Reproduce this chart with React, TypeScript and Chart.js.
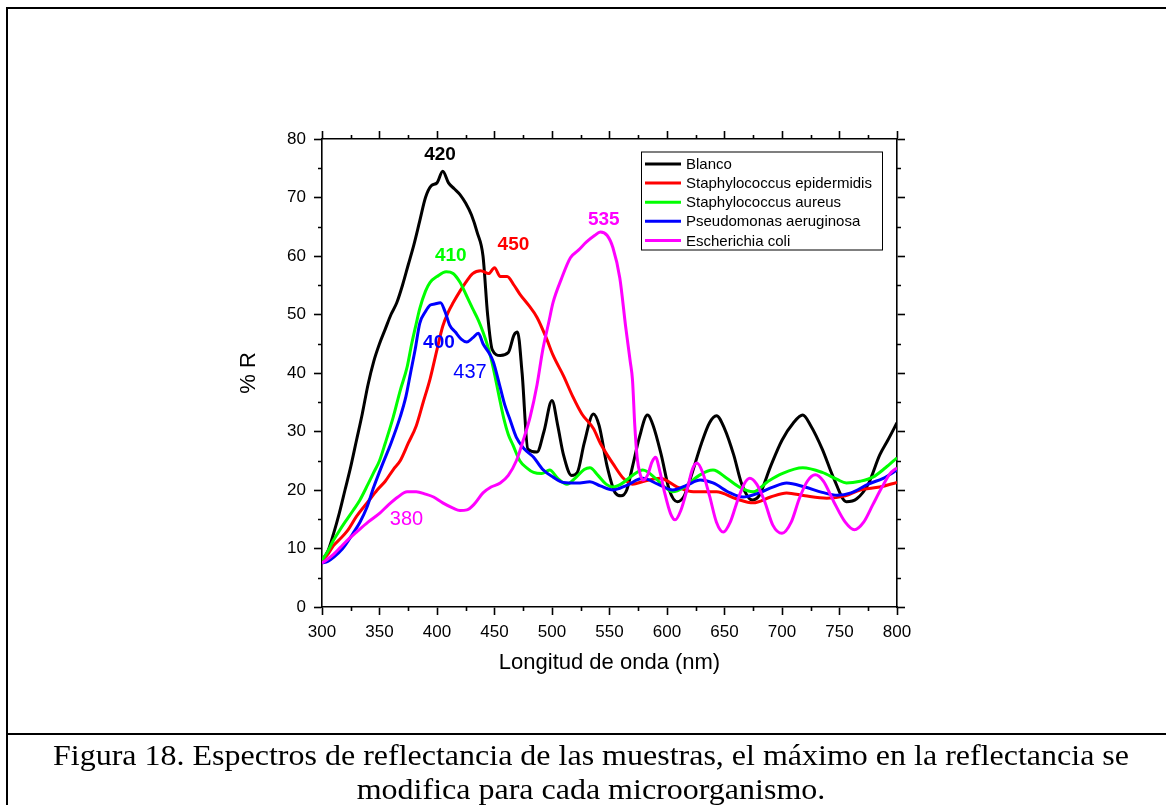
import React, { useEffect, useRef, useMemo } from "react";
import { Chart, registerables } from "chart.js";

Chart.register(...registerables);

// ---------- data ----------
const seriesNames = [
  "Blanco",
  "Staphylococcus epidermidis",
  "Staphylococcus aureus",
  "Pseudomonas aeruginosa",
  "Escherichia coli",
];
const seriesColors = ["#000000", "#ff0000", "#00ff00", "#0000ff", "#ff00ff"];

const blancoNm = [300, 305, 310, 315, 320, 325, 330, 335, 340, 345, 350, 355, 360, 365, 370, 375, 380, 385, 390, 395, 400, 405, 410, 415, 420, 425, 430, 435, 440, 444, 448, 455, 462, 467, 470, 474, 479, 487, 493, 500, 505, 510, 517, 522, 528, 536, 541, 548, 555, 560, 565, 570, 576, 583, 588, 595, 602, 609, 615, 622, 630, 637, 643, 650, 658, 665, 674, 680, 690, 700, 710, 718, 725, 735, 745, 756, 765, 775, 785, 792, 800];
const blancoR = [8, 9.5, 12.5, 16, 20, 24, 28.5, 33, 38, 42, 45, 47.5, 50, 52, 55, 58.5, 62, 66, 70, 72, 72.5, 74.5, 72.5, 71.5, 70.5, 69, 67, 64, 60, 50, 44, 43, 43.5, 46.5, 47, 40, 27, 26.5, 30, 35.3, 31, 26, 22.5, 23, 28, 33, 31, 24, 19.5, 19, 20, 24, 29, 32.8, 31, 26, 20, 18, 19, 23, 28, 31.5, 32.7, 30.5, 26, 21, 18.3, 19, 24, 28.5, 31.5, 32.8, 31, 27, 22, 18, 18.5, 21, 26, 28.5, 31.5];

const epidermidisNm = [300, 305, 310, 315, 322, 330, 340, 348, 355, 362, 368, 375, 382, 388, 394, 400, 405, 410, 414, 420, 425, 431, 438, 445, 450, 455, 461, 467, 472, 480, 487, 495, 501, 510, 518, 526, 536, 542, 548, 553, 562, 570, 580, 594, 609, 623, 643, 660, 675, 690, 704, 720, 739, 755, 768, 785, 800];
const epidermidisR = [8, 9, 10.5, 11.5, 13, 15.5, 18, 20, 21.5, 23.5, 25, 28, 31, 35, 39, 44, 48, 50.5, 52, 54, 55.5, 57, 57.5, 57, 58, 56.5, 56.5, 55, 53.5, 51.5, 49.5, 46, 43, 39.5, 36, 33, 30.5, 28, 26, 24.5, 22, 21, 21.5, 22, 20.5, 19.7, 19.7, 18.5, 17.8, 18.8, 19.5, 19, 18.6, 19, 20, 20.5, 21.3];

const aureusNm = [300, 305, 310, 315, 320, 327, 333, 340, 345, 350, 355, 362, 368, 374, 378, 382, 385, 390, 394, 400, 408, 414, 420, 425, 431, 436, 440, 445, 449, 454, 458, 462, 466, 472, 478, 484, 491, 498, 505, 513, 520, 528, 533, 540, 547, 553, 560, 570, 579, 590, 598, 605, 615, 628, 640, 652, 663, 675, 688, 700, 718, 735, 748, 756, 768, 779, 790, 800];
const aureusR = [8, 9.5, 11.4, 13, 14.5, 16.5, 18.3, 21, 23, 25, 28, 32.5, 37, 41, 45, 48.5, 51, 54, 55.5, 56.5, 57.3, 57, 55.5, 53.5, 51, 49, 47, 44, 40.8, 36, 32.3, 29.5, 27.7, 25, 23.8, 23, 22.8, 23.4, 22, 21, 22, 23.5, 23.8, 22.5, 21, 20.5, 21, 22.5, 23.4, 22, 20.5, 19.7, 20.5, 22.5, 23.4, 22, 20.5, 19.7, 21.5, 22.8, 23.8, 23, 21.8, 21.2, 21.5, 22.2, 23.8, 25.5];

const pseudomonasNm = [300, 305, 310, 318, 327, 333, 339, 345, 353, 360, 368, 373, 377, 381, 385, 390, 394, 398, 403, 407, 411, 416, 421, 426, 431, 436, 440, 445, 449, 455, 459, 463, 469, 476, 484, 492, 501, 510, 522, 533, 542, 553, 565, 579, 592, 605, 617, 629, 640, 655, 666, 680, 692, 704, 720, 735, 748, 760, 775, 788, 800];
const pseudomonasR = [7.5, 7.8, 8.5, 10, 12.6, 14.5, 17, 20.5, 24.6, 28, 32.5, 36, 40, 44, 48.5, 50.5, 51.6, 51.8, 52, 50.5, 48.2, 47, 45.8, 45.3, 46, 46.8, 45, 43.5, 41.9, 37.5, 34.5, 32.3, 29, 27, 25.6, 23.5, 22.2, 21.3, 21.2, 21.4, 20.7, 20, 20.8, 22, 21, 20, 20.8, 21.7, 21.2, 19.5, 18.8, 19.5, 20.5, 21.2, 20.5, 19.6, 19.1, 19.5, 21, 22, 23.4];

const coliNm = [300, 305, 310, 316, 322, 330, 340, 350, 358, 366, 374, 382, 390, 397, 405, 414, 420, 426, 432, 440, 447, 455, 462, 469, 475, 481, 487, 492, 497, 501, 508, 516, 523, 530, 537, 542, 548, 553, 559, 564, 568, 570, 572, 574, 577, 579, 583, 587, 590, 594, 598, 603, 607, 612, 618, 622, 626, 631, 637, 643, 649, 655, 661, 667, 672, 678, 685, 692, 700, 708, 715, 722, 729, 736, 745, 755, 763, 771, 779, 787, 794, 800];
const coliR = [7.5, 8.2, 9, 10.2, 11.4, 12.8, 14.5, 16, 17.5, 18.8, 19.7, 19.7, 19.3, 18.8, 17.8, 16.9, 16.5, 16.6, 17.5, 19.5, 20.5, 21.2, 22.5, 25, 28.5, 32.5, 38, 44, 48.5, 52.1, 56, 59.7, 61, 62.4, 63.5, 64.1, 63.5, 61.4, 56.2, 48, 42, 38.8, 31, 25.6, 22.5, 21.7, 22.5, 24.8, 25.6, 23, 19.5, 16, 14.9, 16.5, 20.5, 23.5, 24.6, 23, 19, 14.5, 12.8, 14.5, 18, 21, 22, 21, 18, 14, 12.6, 14.5, 18.5, 21.5, 22.6, 21.5, 18, 14.5, 13.2, 14.5, 17.5, 20.5, 22.8, 23.8];

const seriesNm = [blancoNm, epidermidisNm, aureusNm, pseudomonasNm, coliNm];
const seriesR = [blancoR, epidermidisR, aureusR, pseudomonasR, coliR];

// peak annotations
const annotationText = ["420", "410", "450", "535", "400", "437", "380"];
const annotationNm = [402.6, 412, 466.5, 545, 401.7, 428.7, 373.5];
const annotationR = [77.3, 60.1, 62, 66.2, 45.2, 40.1, 14.9];
const annotationColor = ["#000000", "#00ff00", "#ff0000", "#ff00ff", "#0000ff", "#0000ff", "#ff00ff"];
const annotationBold = [true, true, true, true, true, false, false];

// axes
const xMin = 300, xMax = 800, xStep = 50;
const yMin = 0, yMax = 80, yStep = 10;
const xMinorTicks = [325, 375, 425, 475, 525, 575, 625, 675, 725, 775];
const yMinorTicks = [5, 15, 25, 35, 45, 55, 65, 75];

const xTitle = "Longitud de onda (nm)";
const yTitle = "% R";
const captionLines = [
  "Figura 18. Espectros de reflectancia de las muestras, el máximo en la reflectancia se",
  "modifica para cada microorganismo.",
];

const SANS = 'Arial, "Liberation Sans", sans-serif';
const SERIF = '"Liberation Serif", "Times New Roman", serif';

const minorTickPlugin = {
  id: "minorTicks",
  afterDraw(chart: any) {
    const { ctx, chartArea: ca, scales } = chart;
    const len = 4;
    ctx.save();
    ctx.strokeStyle = "#000";
    ctx.lineWidth = 1.6;
    ctx.beginPath();
    for (const v of xMinorTicks) {
      const px = Math.round(scales.x.getPixelForValue(v)) + 0.5;
      ctx.moveTo(px, ca.bottom);
      ctx.lineTo(px, ca.bottom + len);
      ctx.moveTo(px, ca.top);
      ctx.lineTo(px, ca.top - len);
    }
    for (const v of yMinorTicks) {
      const py = Math.round(scales.y.getPixelForValue(v)) + 0.5;
      ctx.moveTo(ca.left - len, py);
      ctx.lineTo(ca.left, py);
      ctx.moveTo(ca.right, py);
      ctx.lineTo(ca.right + len, py);
    }
    ctx.stroke();
    ctx.restore();
  },
};

const annotationPlugin = {
  id: "peakLabels",
  afterDatasetsDraw(chart: any) {
    const { ctx, scales } = chart;
    ctx.save();
    ctx.textAlign = "center";
    ctx.textBaseline = "middle";
    annotationText.forEach((t, i) => {
      ctx.font = `${annotationBold[i] ? "bold 19px" : "20px"} ${SANS}`;
      ctx.fillStyle = annotationColor[i];
      ctx.fillText(t, scales.x.getPixelForValue(annotationNm[i]), scales.y.getPixelForValue(annotationR[i]));
    });
    ctx.restore();
  },
};

const legendPlugin = {
  id: "insideLegend",
  afterDatasetsDraw(chart: any) {
    const { ctx, chartArea: ca } = chart;
    const left = ca.right - 256;
    const top = ca.top + 12.5;
    const w = 241;
    const rowH = 19.1;
    const h = 98;
    ctx.save();
    ctx.fillStyle = "#fff";
    ctx.fillRect(left, top, w, h);
    ctx.strokeStyle = "#000";
    ctx.lineWidth = 1;
    ctx.strokeRect(left + 0.5, top + 0.5, w, h);
    ctx.font = `15px ${SANS}`;
    ctx.textBaseline = "middle";
    ctx.textAlign = "left";
    seriesNames.forEach((name, i) => {
      const y = top + 12.5 + i * rowH;
      ctx.strokeStyle = seriesColors[i];
      ctx.lineWidth = 3;
      ctx.beginPath();
      ctx.moveTo(left + 4, y);
      ctx.lineTo(left + 40, y);
      ctx.stroke();
      ctx.fillStyle = "#000";
      ctx.fillText(name, left + 45, y + 1);
    });
    ctx.restore();
  },
};

function axisCommon() {
  return {
    grid: {
      display: true,
      drawOnChartArea: false,
      drawTicks: true,
      tickLength: 8,
      tickWidth: 1.6,
      tickColor: "#000",
      color: "#000",
    },
    border: { display: true, color: "#000", width: 1.6 },
  };
}

export default function App() {
  const canvasRef = useRef<HTMLCanvasElement | null>(null);

  const captionScale = useMemo(() => {
    const c = document.createElement("canvas");
    const cx = c.getContext("2d");
    if (!cx) return 1;
    cx.font = `30px ${SERIF}`;
    const w = cx.measureText(captionLines[0]).width;
    return w > 0 ? 1076 / w : 1;
  }, []);

  useEffect(() => {
    if (!canvasRef.current) return;
    const datasets = seriesNames.map((name, i) => ({
      label: name,
      data: seriesNm[i].map((x, j) => ({ x, y: seriesR[i][j] })),
      borderColor: seriesColors[i],
      backgroundColor: seriesColors[i],
      borderWidth: 3,
      pointRadius: 0,
      cubicInterpolationMode: "monotone" as const,
      fill: false,
      order: seriesNames.length - 1 - i,
    }));

    const chart = new Chart(canvasRef.current, {
      type: "line",
      data: { datasets },
      options: {
        animation: false,
        responsive: false,
        devicePixelRatio: 1,
        layout: { padding: 0 },
        plugins: {
          legend: { display: false },
          tooltip: { enabled: false },
        },
        scales: {
          x: {
            type: "linear",
            position: "bottom",
            min: xMin,
            max: xMax,
            ...axisCommon(),
            ticks: {
              stepSize: xStep,
              color: "#000",
              font: { family: SANS, size: 17 },
              padding: 7,
              maxRotation: 0,
              autoSkip: false,
            },
            title: {
              display: true,
              text: xTitle,
              color: "#000",
              font: { family: SANS, size: 22 },
              padding: { top: 0, bottom: 59 },
            },
            afterFit: (s: any) => {
              s.height = 128;
            },
          },
          x2: {
            type: "linear",
            position: "top",
            min: xMin,
            max: xMax,
            ...axisCommon(),
            ticks: { stepSize: xStep, display: false },
            afterFit: (s: any) => {
              s.height = 139;
            },
          },
          y: {
            type: "linear",
            position: "left",
            min: yMin,
            max: yMax,
            ...axisCommon(),
            ticks: {
              stepSize: yStep,
              color: "#000",
              font: { family: SANS, size: 17 },
              padding: 8,
            },
            title: {
              display: true,
              text: yTitle,
              color: "#000",
              font: { family: SANS, size: 22 },
              padding: { top: 235.5, bottom: 0 },
            },
            afterFit: (s: any) => {
              s.width = 322;
            },
          },
          y2: {
            type: "linear",
            position: "right",
            min: yMin,
            max: yMax,
            ...axisCommon(),
            ticks: { stepSize: yStep, display: false },
            afterFit: (s: any) => {
              s.width = 269;
            },
          },
        },
      } as any,
      plugins: [minorTickPlugin, annotationPlugin, legendPlugin],
    });
    return () => chart.destroy();
  }, []);

  return (
    <div
      style={{
        position: "absolute",
        left: 0,
        top: 0,
        width: 1166,
        height: 805,
        background: "#fff",
        overflow: "hidden",
      }}
    >
      <canvas
        ref={canvasRef}
        width={1166}
        height={735}
        style={{ position: "absolute", left: 0, top: 0, width: 1166, height: 735, display: "block" }}
      />
      <div style={{ position: "absolute", left: 6, top: 7, right: 0, height: 2, background: "#000" }} />
      <div style={{ position: "absolute", left: 6, top: 7, bottom: 0, width: 2, background: "#000" }} />
      <div style={{ position: "absolute", left: 6, top: 733, right: 0, height: 2, background: "#000" }} />
      {captionLines.map((t, i) => (
        <div
          key={i}
          style={{
            position: "absolute",
            left: -9,
            width: 1200,
            top: 738 + i * 34,
            lineHeight: "34px",
            fontSize: 30,
            fontFamily: SERIF,
            color: "#000",
            textAlign: "center",
            whiteSpace: "nowrap",
            transform: `scaleX(${captionScale})`,
            transformOrigin: "center",
          }}
        >
          {t}
        </div>
      ))}
    </div>
  );
}
